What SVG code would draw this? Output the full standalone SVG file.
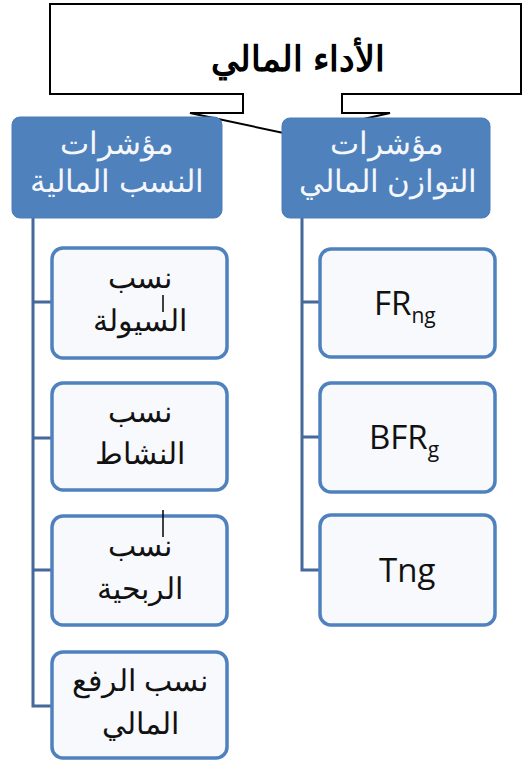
<svg xmlns="http://www.w3.org/2000/svg" width="522" height="760" viewBox="0 0 522 760">
<style>
.hdr{fill:#4f81bd;stroke:#4a7cb8;stroke-width:1}
.box{fill:#f7f9fd;stroke:#4f81bd;stroke-width:3.5}
.conn{fill:none;stroke:#45699a;stroke-width:3}
.ar{font-family:"Liberation Sans",Arial,sans-serif;font-size:30px;text-anchor:middle}
.hd{font-size:31px}
.w{fill:#f4f7fb}
.k{fill:#111}
.lat{font-family:"Open Sans","Lato",sans-serif;font-size:33px;fill:#111}
</style>
<rect width="522" height="760" fill="#fff"/>
<g id="callout">
<path d="M50,4 H521 V94 H342 V113 H390 L293,135 L190,113 H243 V94 H50 Z" fill="#fff" stroke="#000" stroke-width="2"/>
<text x="298" y="71" font-family="Liberation Sans,Arial,sans-serif" font-size="35" font-weight="bold" text-anchor="middle" fill="#000">الأداء المالي</text>
</g>
<g id="connectors">
<path class="conn" d="M33,218 V706 H52"/>
<path class="conn" d="M33,302 H52 M33,438 H52 M33,570 H52"/>
<path class="conn" d="M302,218 V570 H320"/>
<path class="conn" d="M302,302 H320 M302,437 H320"/>
</g>
<g id="hdr-left">
<rect class="hdr" x="12" y="117" width="210" height="101" rx="8"/>
<text class="ar hd w" x="117" y="154">مؤشرات</text>
<text class="ar hd w" x="117" y="192">النسب المالية</text>
</g>
<g id="hdr-right">
<rect class="hdr" x="282" y="118" width="208" height="100" rx="8"/>
<text class="ar hd w" x="387" y="154">مؤشرات</text>
<text class="ar hd w" x="388" y="192">التوازن المالي</text>
</g>
<g id="l1">
<rect class="box" x="52" y="248" width="175" height="110" rx="11"/>
<text class="ar k" x="140" y="288">نسب</text>
<text class="ar k" x="140" y="331">السيولة</text>
<line x1="163" y1="295" x2="163" y2="312" stroke="#000" stroke-width="1.5"/>
</g>
<g id="l2">
<rect class="box" x="52" y="383" width="175" height="107" rx="11"/>
<text class="ar k" x="140" y="422">نسب</text>
<text class="ar k" x="140" y="464">النشاط</text>
</g>
<g id="l3">
<rect class="box" x="52" y="516" width="175" height="109" rx="11"/>
<text class="ar k" x="140" y="556">نسب</text>
<text class="ar k" x="140" y="599">الربحية</text>
<line x1="163" y1="510" x2="163" y2="537" stroke="#000" stroke-width="1.5"/>
</g>
<g id="l4">
<rect class="box" x="52" y="652" width="175" height="106" rx="11"/>
<text class="ar k" x="140" y="691">نسب الرفع</text>
<text class="ar k" x="140" y="734">المالي</text>
</g>
<g id="r1">
<rect class="box" x="320" y="249" width="175" height="108" rx="11"/>
<text class="lat" x="374" y="315">FR<tspan font-size="21" dy="8">ng</tspan></text>
</g>
<g id="r2">
<rect class="box" x="320" y="383" width="175" height="109" rx="11"/>
<text class="lat" x="369" y="449">BFR<tspan font-size="21" dy="8">g</tspan></text>
</g>
<g id="r3">
<rect class="box" x="320" y="515" width="175" height="110" rx="11"/>
<text class="lat" x="379" y="582">Tng</text>
</g>
</svg>
